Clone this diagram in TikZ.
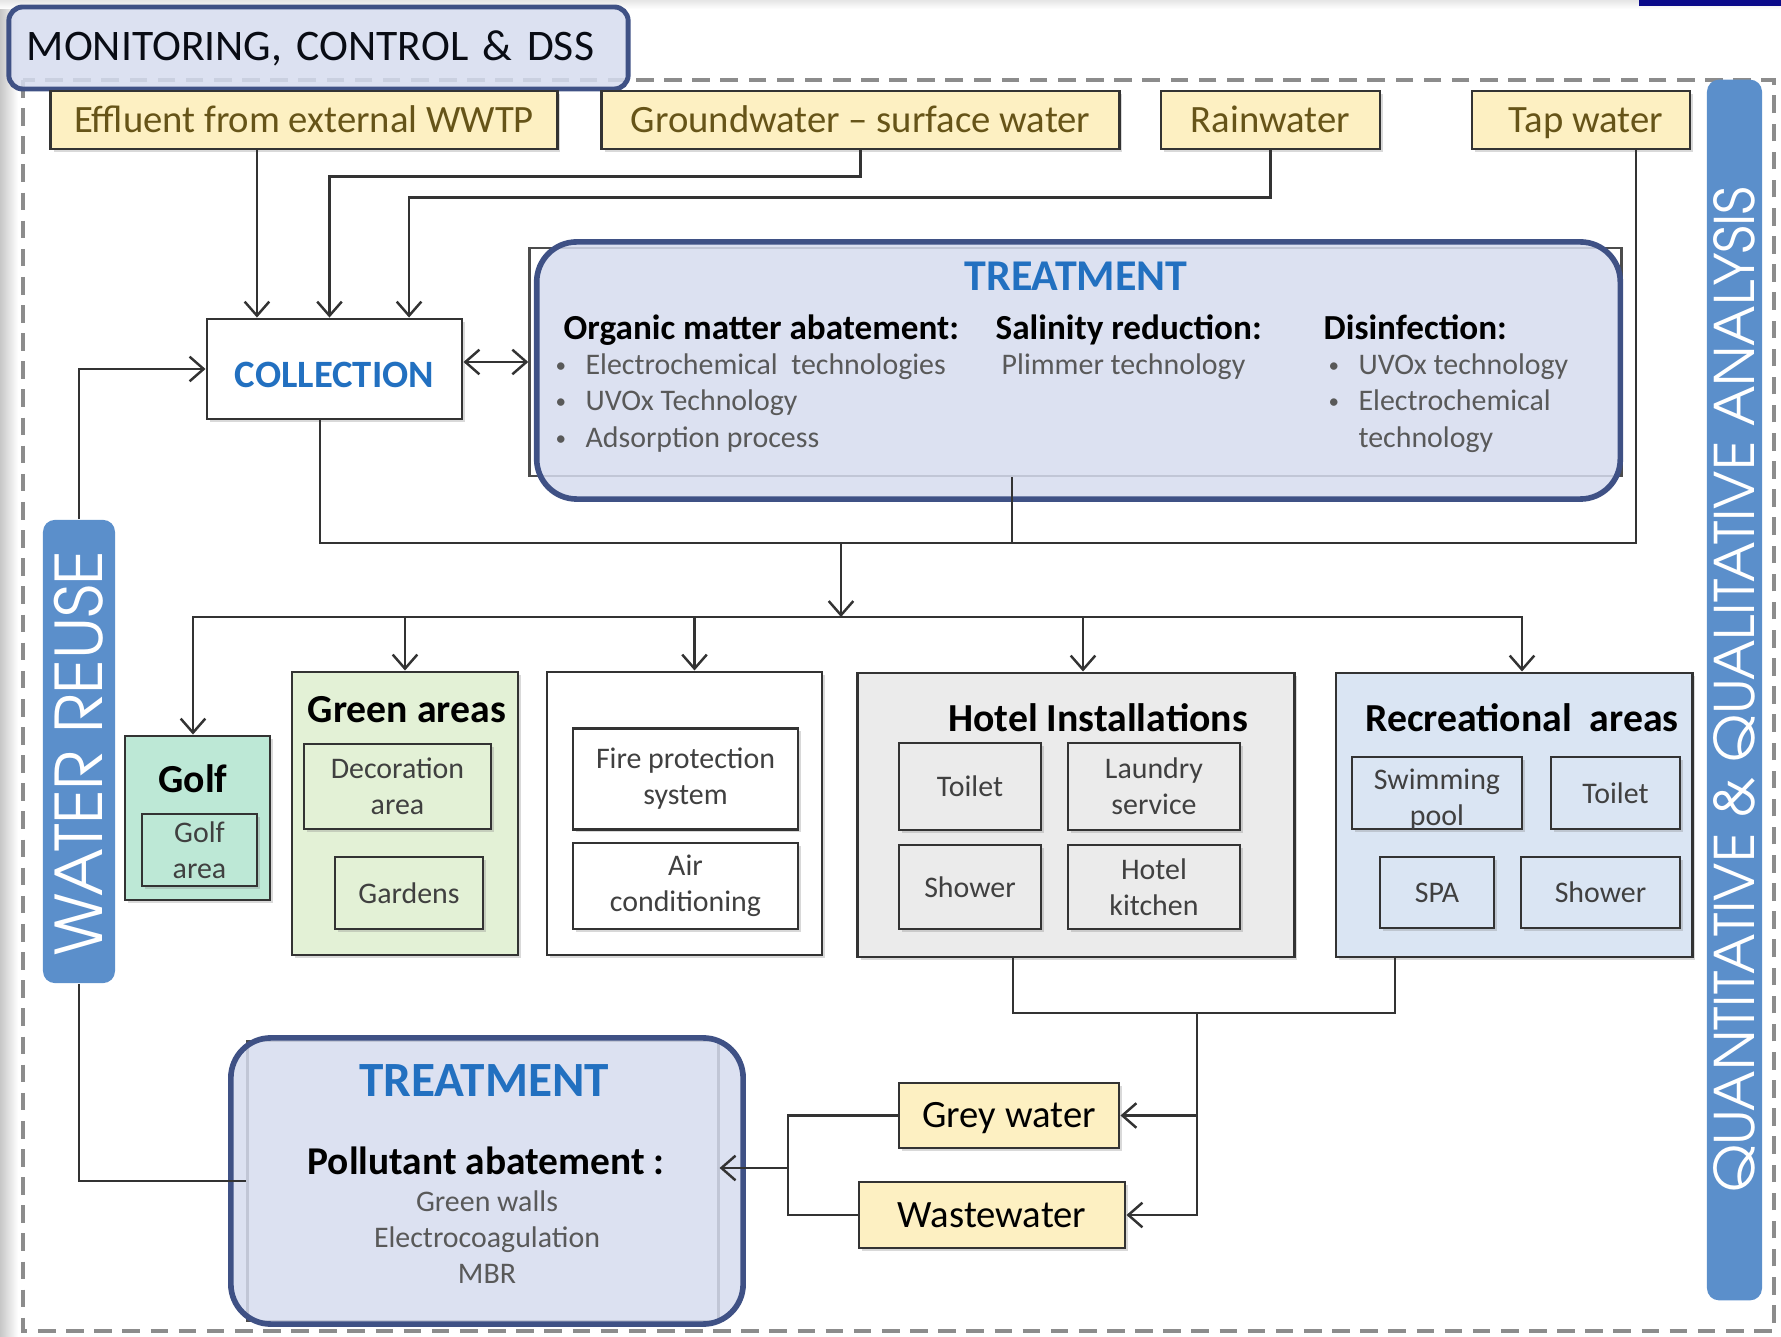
\documentclass[tikz,border=0pt]{standalone}
\usepackage{fontspec}
\setmainfont{Carlito}
\newfontfamily\barfont{texgyreadventor-regular.otf}
\usepackage{tikz}
\usetikzlibrary{arrows.meta,shadows}

\definecolor{navy}{HTML}{3F5185}
\definecolor{deepnavy}{HTML}{0B0B8A}
\definecolor{lav}{HTML}{D6DCEF}
\definecolor{tblue}{HTML}{2270C0}
\definecolor{barblue}{HTML}{5B8FCB}
\definecolor{srcfill}{HTML}{FDF0C2}
\definecolor{srctext}{HTML}{665418}
\definecolor{mint}{HTML}{BDE8D6}
\definecolor{lgreen}{HTML}{E3F1D6}
\definecolor{lgray}{HTML}{EBEBEB}
\definecolor{lblue}{HTML}{DAE5F3}
\definecolor{framegray}{HTML}{8C8C8C}

\newcommand{\bul}{\makebox[8.5pt][l]{\raisebox{0.6pt}{\fontsize{6}{6}\selectfont\textbullet}}}
\newcommand{\nobul}{\makebox[8.5pt]{}}

\tikzset{
  line/.style={draw=black!80, line width=0.7pt},
  arr/.style={line, -{Straight Barb[length=4pt,width=7pt]}},
  darr/.style={line, {Straight Barb[length=4pt,width=7pt]}-{Straight Barb[length=4pt,width=7pt]}},
  box/.style={draw=black!80, line width=0.8pt, inner sep=0pt, align=center,
    drop shadow={shadow xshift=0.8pt, shadow yshift=-0.8pt, opacity=0.3}},
  srcbox/.style={box, fill=srcfill, text=srctext, text height=9pt, text depth=2pt,
    font=\fontsize{11}{13}\selectfont},
  sub/.style={box, text=black!75, font=\fontsize{8.5}{10.2}\selectfont},
  subtext/.style={inner sep=0pt, align=center, text=black!75, font=\fontsize{8.5}{10.2}\selectfont},
  ttl/.style={inner sep=0pt, font=\bfseries\fontsize{11.3}{13}\selectfont},
  hdr/.style={inner sep=0pt, font=\bfseries\fontsize{10}{12}\selectfont},
  itm/.style={inner sep=0pt, align=left, text=black!65, font=\fontsize{8.5}{10.4}\selectfont},
  frm/.style={draw=black!70, line width=0.8pt, inner sep=0pt},
  treat/.style={draw=navy, line width=1.6pt, fill=lav, fill opacity=0.85, rounded corners=0.4cm, inner sep=0pt},
  bar/.style={fill=barblue, rounded corners=0.12cm, inner sep=0pt},
  bartext/.style={rotate=90, text=white, inner sep=0pt}
}

\begin{document}
\begin{tikzpicture}[x=0.01cm, y=-0.01cm]
    \useasboundingbox (0,0) rectangle (1781,1337);
    \shade[left color=black!22, right color=white] (0,0) rectangle (18,1337);
    \shade[top color=black!10, bottom color=white] (0,0) rectangle (1781,9);
    \fill[deepnavy] (1639,0) rectangle (1781,6);

    % outer frame
    \draw[framegray, line width=1.2pt, dash pattern=on 5pt off 3pt] (23,80) rectangle (1774,1331);

    \node[bar, minimum width=0.72cm, minimum height=4.63cm] (wr) at (79,751.5) {};
    \node[bartext, font=\barfont\fontsize{18.3}{20}\selectfont] (wrt) at (79,753) {WATER REUSE};
    \node[bar, minimum width=0.55cm, minimum height=12.2cm] (qa) at (1734.5,690) {};
    \node[bartext, font=\barfont\fontsize{15.5}{18}\selectfont] (qat) at (1734.5,690) {QUANTITATIVE \& QUALITATIVE ANALYSIS};

    \node[draw=navy, line width=1.4pt, fill=lav, fill opacity=0.85, text opacity=1,
      rounded corners=0.14cm, minimum width=6.19cm, minimum height=0.82cm,
      text width=5.83cm, inner xsep=0.18cm, align=left, text=black!85!navy,
      font=\fontsize{12.4}{15}\selectfont] (mon) at (318.5,48) {MONITORING, CONTROL \& DSS};

    % water sources
    \node[srcbox, minimum width=5.06cm, minimum height=0.58cm] (eff) at (304,120) {Effluent from external WWTP};
    \node[srcbox, minimum width=5.17cm, minimum height=0.58cm] (gw) at (860.5,120) {Groundwater – surface water};
    \node[srcbox, minimum width=2.19cm, minimum height=0.58cm] (rain) at (1270.5,120) {Rainwater};
    \node[srcbox, minimum width=2.18cm, minimum height=0.58cm] (tap) at (1581,120) {\hspace{0.1cm}Tap water};

    \node[box, fill=white, minimum width=2.55cm, minimum height=1.0cm, text=tblue,
      text height=10.4pt, text depth=0pt,
      font=\bfseries\fontsize{11}{13}\selectfont] (coll) at (334.5,369) {COLLECTION};

    % upper treatment
    \node[frm, minimum width=10.91cm, minimum height=2.28cm] (t1r) at (1075.5,362) {};
    \node[treat, minimum width=10.83cm, minimum height=2.57cm] (t1) at (1078.5,370.5) {};
    \node[inner sep=0pt, text=tblue, font=\bfseries\fontsize{12.5}{15}\selectfont] (t1name) at (1076,276) {TREATMENT};
    \node[hdr, anchor=base west] (omh) at (563,340) {Organic matter abatement:};
    \node[hdr, anchor=base west] (srh) at (995,340) {Salinity reduction:};
    \node[hdr, anchor=base west] (dsh) at (1323,340) {Disinfection:};
    \node[itm, anchor=west] (oml) at (555,403) {\bul Electrochemical\ \ technologies\\\bul UVOx Technology\\\bul Adsorption process};
    \node[itm, anchor=base west] (srl) at (1001,375) {Plimmer technology};
    \node[itm, anchor=west] (dsl) at (1328,403) {\bul UVOx technology\\\bul Electrochemical\\\nobul technology};

    % uses
    \node[box, fill=mint, minimum width=1.45cm, minimum height=1.64cm] (golf) at (197.5,818) {};
    \node[ttl] (golft) at (193,779) {Golf};
    \node[sub, fill=mint, minimum width=1.15cm, minimum height=0.72cm] (golfa) at (199.5,850) {Golf\\area};

    \node[box, fill=lgreen, minimum width=2.26cm, minimum height=2.83cm] (green) at (405,813.5) {};
    \node[ttl] (greent) at (407,710) {Green areas};
    \node[sub, fill=lgreen, minimum width=1.87cm, minimum height=0.85cm] (deco) at (397.5,786.5) {Decoration\\area};
    \node[sub, fill=lgreen, minimum width=1.48cm, minimum height=0.72cm] (gard) at (409,893) {Gardens};

    \node[box, fill=white, minimum width=2.75cm, minimum height=2.83cm] (fire) at (684.5,813.5) {};
    \node[sub, fill=white, minimum width=2.25cm, minimum height=1.01cm] (fps) at (685.5,779) {Fire protection\\system};
    \node[sub, fill=white, minimum width=2.25cm, minimum height=0.86cm] (air) at (685.5,886) {Air\\conditioning};

    \node[box, fill=lgray, minimum width=4.36cm, minimum height=2.84cm] (hotel) at (1076,815) {};
    \node[ttl] (hotelt) at (1098,718) {Hotel Installations};
    \node[sub, fill=lgray, minimum width=1.42cm, minimum height=0.87cm] (htoil) at (970,786.5) {Toilet};
    \node[sub, fill=lgray, minimum width=1.72cm, minimum height=0.87cm] (laund) at (1154,786.5) {Laundry\\service};
    \node[sub, fill=lgray, minimum width=1.42cm, minimum height=0.84cm] (hshow) at (970,887) {Shower};
    \node[sub, fill=lgray, minimum width=1.72cm, minimum height=0.84cm] (kitch) at (1154,887) {Hotel\\kitchen};

    \node[box, fill=lblue, minimum width=3.56cm, minimum height=2.84cm] (rec) at (1514,815) {};
    \node[ttl] (rect) at (1522,718) {Recreational\ \ areas};
    \node[sub, fill=lblue, minimum width=1.70cm, minimum height=0.72cm] (swim) at (1437,793) {};
    \node[subtext] (swimt) at (1437,800) {Swimming\\pool};
    \node[sub, fill=lblue, minimum width=1.29cm, minimum height=0.72cm] (rtoil) at (1615.5,793) {Toilet};
    \node[sub, fill=lblue, minimum width=1.14cm, minimum height=0.71cm] (spa) at (1437,892.5) {SPA};
    \node[sub, fill=lblue, minimum width=1.59cm, minimum height=0.71cm] (rshow) at (1600.5,892.5) {Shower};

    % used water
    \node[srcbox, text=black, minimum width=2.20cm, minimum height=0.65cm] (grey) at (1009,1115.5) {Grey water};
    \node[srcbox, text=black, minimum width=2.66cm, minimum height=0.66cm] (waste) at (992,1215) {Wastewater};

    % lower treatment
    \node[frm, minimum width=4.70cm, minimum height=2.80cm] (t2r) at (483,1181) {};
    \node[treat, minimum width=5.12cm, minimum height=2.86cm] (t2) at (487,1181) {};
    \node[inner sep=0pt, text=tblue, font=\bfseries\fontsize{14}{17}\selectfont] (t2name) at (484,1081) {TREATMENT};
    \node[inner sep=0pt, font=\bfseries\fontsize{11.2}{13}\selectfont] (pah) at (486,1161) {Pollutant abatement :};
    \node[itm, align=center, font=\fontsize{8.5}{10.2}\selectfont] (pal) at (487,1237) {Green walls\\Electrocoagulation\\MBR};

    % sources to collection
    \coordinate (c1) at ([xshift=-0.775cm]coll.north);
    \coordinate (c2) at ([xshift=-0.05cm]coll.north);
    \coordinate (c3) at ([xshift=0.745cm]coll.north);
    \draw[arr] (eff.south -| c1) -- (c1);
    \draw[arr] (gw.south) -- ++(0,26) -| (c2);
    \draw[arr] (rain.south) -- ++(0,47) -| (c3);
    \draw[darr] (coll.east |- t1r.west) -- (t1r.west);
    \draw[arr] (wr.north) |- (coll.west);

    % distribution
    \coordinate (hub) at (841,543);
    \coordinate (dist) at (841,617);
    \coordinate (cdrop) at ([xshift=-0.145cm]coll.south);
    \coordinate (tdrop) at ([xshift=-0.635cm]t1r.south);
    \coordinate (tapx) at ([xshift=0.55cm]tap.south);
    \draw[line] (cdrop) |- (tapx |- hub) -- (tapx);
    \draw[line] (tdrop) -- (tdrop |- hub);
    \draw[arr] (hub) -- (dist);
    \coordinate (golfin) at ([xshift=-0.045cm]golf.north);
    \coordinate (firein) at ([xshift=0.1cm]fire.north);
    \coordinate (hotelin) at ([xshift=0.07cm]hotel.north);
    \coordinate (recin) at ([xshift=0.08cm]rec.north);
    \draw[arr] (dist) -| (golfin);
    \draw[arr] (dist) -| (recin);
    \draw[arr] (green.north |- dist) -- (green.north);
    \draw[arr] (firein |- dist) -- (firein);
    \draw[arr] (hotelin |- dist) -- (hotelin);

    % return path
    \coordinate (hotx) at ([xshift=-0.63cm]hotel.south);
    \coordinate (recx) at ([xshift=-1.19cm]rec.south);
    \coordinate (sink) at (1197,1013);
    \draw[line] (hotx) |- (recx |- sink) -- (recx);
    \draw[arr] (sink) |- (grey.east);
    \draw[arr] (sink) |- (waste.east);
    \coordinate (mix) at (788,1168);
    \draw[line] (grey.west) -| (mix) |- (waste.west);
    \draw[arr] (mix) -- (t2r.east |- mix);
    \draw[line] (wr.south) |- (t2r.west);
\end{tikzpicture}
\end{document}
